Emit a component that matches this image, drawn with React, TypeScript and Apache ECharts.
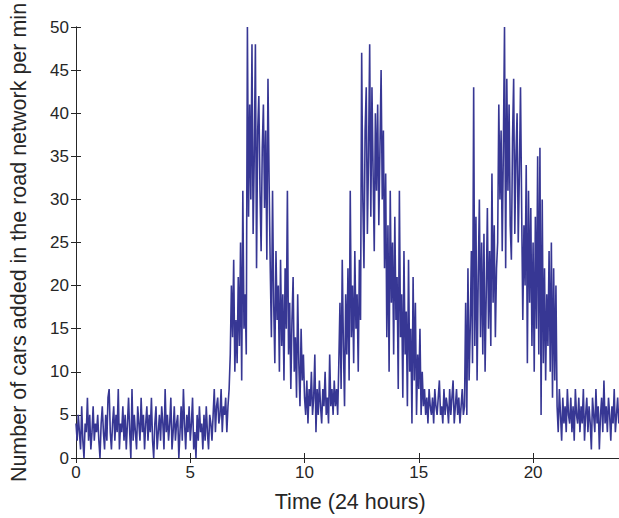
import React, { useEffect, useRef } from "react";
import * as echarts from "echarts";

// One sample every 3 minutes (cars per minute)
const sampleMinutes = 3;

const h00_06 = [
  4, 2, 5, 3, 1, 6, 2, 0, 4, 3, 7, 2, 5, 1, 3, 6, 2, 4, 3, 5,
  2, 0, 4, 6, 3, 1, 5, 2, 7, 8, 3, 1, 4, 6, 2, 5, 3, 8, 1, 4,
  3, 6, 2, 5, 1, 4, 7, 3, 0, 8, 2, 5, 3, 1, 6, 4, 2, 7, 3, 5,
  1, 4, 6, 2, 5, 3, 7, 2, 0, 4, 6, 1, 3, 5, 2, 6, 4, 1, 8, 3,
  5, 2, 4, 7, 1, 3, 6, 2, 4, 5, 0, 3, 6, 2, 8, 4, 1, 5, 3, 6,
  2, 4, 7, 1, 3, 0, 5, 2, 6, 3, 4, 1, 5, 2, 6, 3, 1, 5, 4, 2,
];
const h06_08 = [
  5, 8, 3, 6, 7, 4, 5, 8, 3, 6, 5, 7, 3, 6, 8, 12, 20, 14, 23, 10,
  16, 11, 21, 13, 25, 9, 31, 15, 19, 12, 50, 28, 41, 30, 48, 26, 35, 48, 22, 38,
];
const h08_10 = [
  42, 31, 24, 36, 41, 29, 38, 23, 44, 32, 22, 14, 31, 18, 11, 24, 16, 20, 10, 23,
  13, 19, 9, 22, 15, 31, 12, 18, 8, 16, 21, 10, 14, 7, 19, 11, 6, 15, 9, 12,
];
const h10_12 = [
  7, 5, 9, 4, 8, 6, 10, 5, 7, 12, 3, 8, 5, 9, 6, 4, 8, 6, 10, 5,
  7, 4, 12, 6, 8, 5, 9, 6, 8, 5, 11, 18, 8, 23, 13, 6, 19, 12, 22, 9,
];
const h12_14 = [
  31, 14, 20, 11, 24, 15, 19, 10, 23, 16, 47, 30, 22, 38, 43, 26, 35, 48, 28, 43,
  33, 24, 40, 31, 41, 27, 36, 45, 30, 38, 22, 33, 14, 27, 10, 31, 18, 25, 12, 28,
];
const h14_16 = [
  16, 21, 8, 31, 14, 19, 7, 24, 12, 17, 6, 23, 10, 15, 4, 21, 9, 18, 5, 12,
  8, 15, 5, 10, 6, 8, 5, 7, 4, 8, 6, 5, 7, 4, 8, 6, 5, 7, 9, 5,
];
const h16_18 = [
  6, 4, 8, 5, 7, 6, 4, 8, 5, 7, 9, 4, 6, 8, 5, 7, 4, 6, 8, 5,
  6, 18, 5, 22, 9, 15, 24, 11, 43, 13, 28, 9, 21, 30, 14, 25, 12, 26, 10, 19,
];
const h18_20 = [
  29, 15, 24, 13, 33, 18, 27, 14, 22, 25, 41, 30, 38, 24, 36, 50, 22, 44, 31, 41,
  27, 23, 37, 44, 26, 35, 40, 25, 33, 43, 29, 16, 27, 20, 34, 11, 31, 18, 29, 13,
];
const h20_22 = [
  25, 10, 28, 15, 35, 12, 36, 5, 30, 11, 22, 9, 19, 13, 24, 10, 25, 7, 22, 9,
  20, 6, 3, 8, 5, 2, 7, 4, 6, 3, 8, 5, 4, 7, 3, 6, 2, 8, 5, 4,
];
const h22_24 = [
  7, 3, 6, 4, 8, 2, 5, 7, 3, 6, 4, 1, 7, 5, 3, 8, 4, 6, 1, 5,
  7, 3, 9, 4, 6, 3, 7, 5, 2, 6, 4, 8, 3, 5, 7, 4, 6, 3, 5, 4,
  6,
];

const carsPerMin = [
  ...h00_06, ...h06_08, ...h08_10, ...h10_12, ...h12_14,
  ...h14_16, ...h16_18, ...h18_20, ...h20_22, ...h22_24,
];

const xMin = 0;
const xMax = 24;
const xInterval = 5;
const yMin = 0;
const yMax = 50;
const yInterval = 5;

const xTitle = "Time (24 hours)";
const yTitle = "Number of cars added in the road network per min";

const lineColor = "#373794";
const axisColor = "#262626";
const fontFamily = "'Liberation Sans', Arial, Helvetica, sans-serif";

export default function App() {
  const ref = useRef<HTMLDivElement>(null);

  useEffect(() => {
    if (!ref.current) return;
    const chart = echarts.init(ref.current, null, { renderer: "svg" });
    const data = carsPerMin.map((v, i) => [(i * sampleMinutes) / 60, v]);

    const axisLine = { show: true, lineStyle: { color: axisColor, width: 1 } };
    const axisTick = { show: true, inside: true, length: 5, lineStyle: { color: axisColor, width: 1 } };

    chart.setOption({
      animation: false,
      backgroundColor: "#ffffff",
      grid: { left: 74, top: 27, width: 550.5, height: 434, containLabel: false },
      xAxis: [
        {
          type: "value",
          position: "bottom",
          min: xMin,
          max: xMax,
          interval: xInterval,
          axisLine,
          axisTick,
          splitLine: { show: false },
          axisLabel: {
            show: true,
            margin: 6,
            color: axisColor,
            fontSize: 17,
            fontFamily,
            showMaxLabel: false,
          },
          name: xTitle,
          nameLocation: "middle",
          nameGap: 33,
          nameTextStyle: { color: axisColor, fontSize: 21.5, fontFamily },
        },
        {
          type: "value",
          position: "top",
          min: xMin,
          max: xMax,
          interval: xInterval,
          axisLine,
          axisTick,
          splitLine: { show: false },
          axisLabel: { show: false },
        },
      ],
      yAxis: [
        {
          type: "value",
          position: "left",
          min: yMin,
          max: yMax,
          interval: yInterval,
          axisLine,
          axisTick,
          splitLine: { show: false },
          axisLabel: {
            show: true,
            margin: 7,
            color: axisColor,
            fontSize: 17,
            fontFamily,
          },
          name: yTitle,
          nameLocation: "middle",
          nameRotate: 90,
          nameGap: 46,
          nameTextStyle: { color: axisColor, fontSize: 21.5, fontFamily },
        },
        {
          type: "value",
          position: "right",
          min: yMin,
          max: yMax,
          interval: yInterval,
          axisLine,
          axisTick,
          splitLine: { show: false },
          axisLabel: { show: false },
        },
      ],
      series: [
        {
          type: "line",
          xAxisIndex: 0,
          yAxisIndex: 0,
          data,
          showSymbol: false,
          symbol: "none",
          clip: true,
          lineStyle: { color: lineColor, width: 1.6 },
          itemStyle: { color: lineColor },
        },
      ],
    });

    return () => chart.dispose();
  }, []);

  return (
    <div
      style={{
        position: "fixed",
        left: 0,
        top: 0,
        width: 619,
        height: 518,
        overflow: "hidden",
        background: "#ffffff",
      }}
    >
      <div ref={ref} style={{ width: 640, height: 518 }} />
    </div>
  );
}
